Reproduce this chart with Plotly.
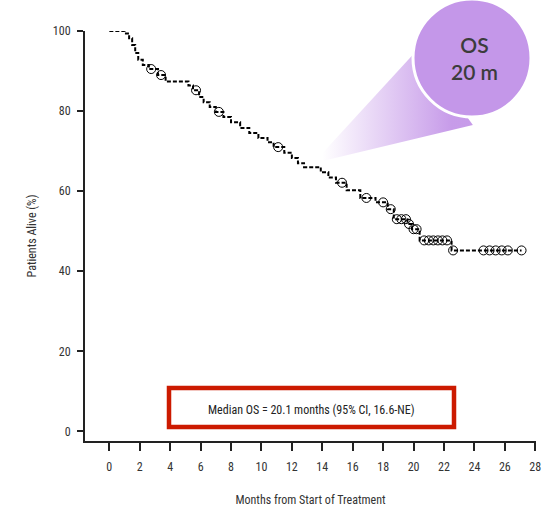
import plotly.graph_objects as go

# ---- data ----
event_times = [0, 1.0, 1.3, 1.5, 1.7, 1.9, 2.2, 2.6, 3.2, 3.7, 5.2, 5.5, 5.9, 6.2, 6.6, 7.0,
               7.5, 8.0, 8.6, 9.2, 9.8, 10.4, 10.8, 11.5, 12.0, 12.4, 12.8, 13.9, 14.4, 14.9,
               15.6, 16.5, 17.5, 18.3, 18.7, 19.6, 19.9, 20.4, 22.5, 27.1]
surv = [100, 99.4, 98.2, 96.5, 94.5, 92.8, 91.5, 90.5, 89.0, 87.4, 86.4, 85.2, 83.5, 82.2, 81.0, 79.8,
        78.5, 77.2, 75.8, 74.5, 73.3, 72.2, 71.0, 69.6, 68.3, 67.0, 66.0, 64.7, 63.4, 62.1,
        60.2, 58.3, 57.2, 55.5, 53.0, 51.8, 50.5, 47.7, 45.2, 45.2]

censor_times = [2.75, 3.4, 5.7, 7.2, 11.1, 15.3, 16.9, 18.0, 18.5, 18.9, 19.2, 19.5, 19.7,
                20.0, 20.2, 20.7, 21.0, 21.3, 21.6, 21.9, 22.2, 22.6, 24.6, 25.0, 25.4, 25.8,
                26.2, 27.1]
censor_surv = [90.5, 89.0, 85.2, 79.8, 71.0, 62.1, 58.3, 57.2, 55.5, 53.0, 53.0, 53.0, 51.8,
               50.5, 50.5, 47.7, 47.7, 47.7, 47.7, 47.7, 47.7, 45.2, 45.2, 45.2, 45.2, 45.2,
               45.2, 45.2]

x_ticks = list(range(0, 29, 2))
y_ticks = [0, 20, 40, 60, 80, 100]

x_title = "Months from Start of Treatment"
y_title = "Patients Alive (%)"
median_text = "Median OS = 20.1 months (95% CI, 16.6-NE)"
callout_text = "OS<br>20 m"

# callout cone (decoration) in data units: apex near curve, spreading to the bubble
cone_x = [13.4, 20.3, 23.9, 13.4]
cone_y = [67.0, 95.5, 76.5, 67.0]

W, H = 552, 508
FONT = "Liberation Sans Narrow, Arial Narrow, Roboto Condensed, Liberation Sans, sans-serif"


def px(x):
    return x / W


def py(y):
    return (H - y) / H


fig = go.Figure()

fig.add_trace(go.Scatter(
    x=cone_x, y=cone_y, mode="lines", fill="toself",
    line=dict(width=0, color="rgba(0,0,0,0)"),
    fillgradient=dict(type="horizontal", start=14.0, stop=22.5,
                      colorscale=[[0, "rgba(196,150,232,0.0)"], [1, "rgba(196,150,232,0.95)"]]),
    hoverinfo="skip", showlegend=False,
))

fig.add_trace(go.Scatter(
    x=event_times, y=surv, mode="lines", line_shape="hv",
    line=dict(color="black", width=2, dash="4px,2px"),
    showlegend=False,
))

fig.add_trace(go.Scatter(
    x=censor_times, y=censor_surv, mode="markers",
    marker=dict(symbol="circle-open", size=9, color="black", line=dict(width=1, color="black")),
    showlegend=False,
))

fig.update_layout(
    width=W, height=H,
    margin=dict(l=0, r=0, t=0, b=0),
    paper_bgcolor="white", plot_bgcolor="white",
    font=dict(family=FONT, size=12, color="#333333"),
    xaxis=dict(
        domain=[px(85), px(536)], range=[-1.6, 28.05],
        tickvals=x_ticks, ticks="outside", ticklen=8, tickwidth=1.5, tickcolor="#222",
        showline=True, linecolor="#222", linewidth=2, showgrid=False, zeroline=False,
        ticklabelstandoff=6, automargin=False,
        title=dict(text=x_title, standoff=22, font=dict(size=12, color="#333")),
        tickfont=dict(size=12, color="#333"),
    ),
    yaxis=dict(
        domain=[py(441), py(31)], range=[-2.4, 100],
        tickvals=y_ticks, ticks="outside", ticklen=6, tickwidth=1.5, tickcolor="#222",
        showline=True, linecolor="#222", linewidth=2, showgrid=False, zeroline=False,
        ticklabelstandoff=4, automargin=False,
        title=dict(text=y_title, standoff=14, font=dict(size=12, color="#333")),
        tickfont=dict(size=12, color="#333"),
    ),
    shapes=[
        dict(type="circle", xref="paper", yref="paper",
             x0=px(413), x1=px(531), y0=py(117), y1=py(-1),
             fillcolor="#C497E9", line=dict(color="white", width=3), layer="above"),
        dict(type="rect", xref="paper", yref="paper",
             x0=px(169), x1=px(454), y0=py(427), y1=py(388),
             fillcolor="rgba(0,0,0,0)", line=dict(color="#CC1A00", width=4.5), layer="above"),
    ],
    annotations=[
        dict(xref="paper", yref="paper", x=px(474), y=py(58), text=callout_text,
             xanchor="center", yanchor="middle",
             showarrow=False,
             font=dict(family="Lato, Open Sans, sans-serif", size=21, color="#3C3C3C", weight=600),
             align="center"),
        dict(xref="paper", yref="paper", x=px(311), y=py(410), text=median_text,
             xanchor="center", yanchor="middle",
             showarrow=False, font=dict(family=FONT, size=12, color="#222")),
    ],
)

fig.write_html("out.html", config={"displayModeBar": False},
               post_script="document.body.style.margin='0';document.body.style.overflow='hidden';")
